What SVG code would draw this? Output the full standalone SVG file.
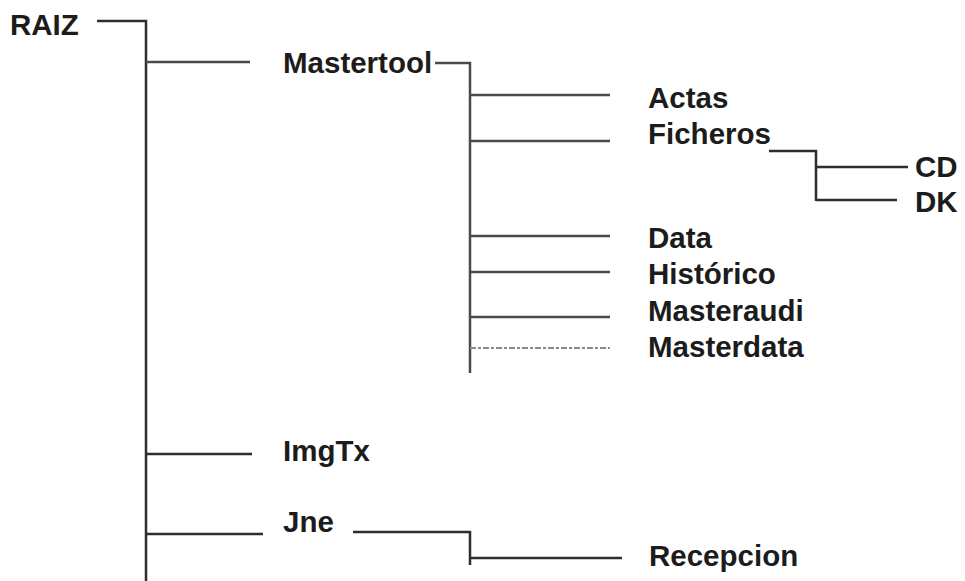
<svg xmlns="http://www.w3.org/2000/svg" width="965" height="581" viewBox="0 0 965 581">
<style>
.lbl{font-family:"Liberation Sans",Arial,sans-serif;font-weight:bold;font-size:29.5px;fill:#1c1c1c}
.c{fill:none;stroke:#2e2e2e;stroke-width:2.5}
.g{stroke:#4a4a4a}
.faint{stroke:#8a8a8a;stroke-width:2;stroke-dasharray:6 2 3 2}
</style>
<rect width="965" height="581" fill="#ffffff"/>
<g id="connectors">
<path class="c" d="M97,21 H146 V581"/>
<path class="c g" d="M146,62 H250"/>
<path class="c g" d="M435,63 H470 V373"/>
<path class="c g" d="M470,95 H610"/>
<path class="c g" d="M470,141 H610"/>
<path class="c g" d="M470,236 H610"/>
<path class="c g" d="M470,272 H610"/>
<path class="c g" d="M470,317 H610"/>
<path class="c faint" d="M470,348 H610"/>
<path class="c" d="M769,151 H816 V201"/>
<path class="c" d="M816,167 H908"/>
<path class="c" d="M816,200 H897"/>
<path class="c" d="M146,454 H252"/>
<path class="c" d="M146,534 H263"/>
<path class="c" d="M353,532 H470 V565"/>
<path class="c" d="M470,558 H622"/>
</g>
<g id="raiz"><text class="lbl" x="10" y="35">RAIZ</text></g>
<g id="mastertool"><text class="lbl" x="283" y="73">Mastertool</text></g>
<g id="actas"><text class="lbl" x="648" y="108">Actas</text></g>
<g id="ficheros"><text class="lbl" x="648" y="144">Ficheros</text></g>
<g id="cd"><text class="lbl" x="915" y="177">CD</text></g>
<g id="dk"><text class="lbl" x="915" y="212">DK</text></g>
<g id="data"><text class="lbl" x="648" y="248">Data</text></g>
<g id="historico"><text class="lbl" x="648" y="284">Histórico</text></g>
<g id="masteraudi"><text class="lbl" x="648" y="321">Masteraudi</text></g>
<g id="masterdata"><text class="lbl" x="648" y="357">Masterdata</text></g>
<g id="imgtx"><text class="lbl" x="283" y="461">ImgTx</text></g>
<g id="jne"><text class="lbl" x="283" y="532">Jne</text></g>
<g id="recepcion"><text class="lbl" x="649" y="566">Recepcion</text></g>
</svg>
